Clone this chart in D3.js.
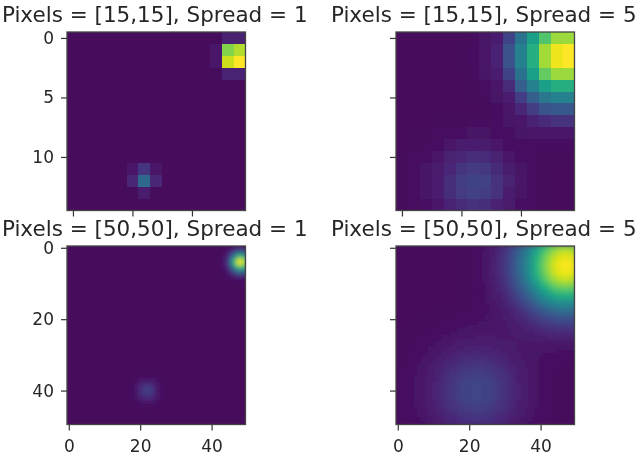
<!DOCTYPE html>
<html lang="en">
<head>
  <meta charset="UTF-8">
  <title>Heatmaps</title>
  <script src="https://d3js.org/d3.v7.min.js"></script>
  <style>
    body { margin: 0; background: #fff; }
    text { font-family: "DejaVu Sans", sans-serif; fill: #262626; filter: blur(0.35px); }
    .title { font-size: 21.5px; text-anchor: middle; }
    .axis text { font-size: 17px; fill: #262626; }
    .axis path { display: none; }
    .axis line { stroke: #333; stroke-width: 1.2; }
    .frame { fill: none; stroke: #444; stroke-width: 1.3; }
  </style>
</head>
<body>
  <svg width="640" height="457">
    <defs>
      <filter id="soft" x="-5%" y="-5%" width="110%" height="110%"><feGaussianBlur stdDeviation="0.55"/></filter>
      <filter id="smooth" x="-5%" y="-5%" width="110%" height="110%"><feGaussianBlur stdDeviation="2"/></filter>
    </defs>
  </svg>

  <script>
    const ticks15 = [0, 5, 10];
    const ticks50 = [0, 20, 40];

    // values on a 0-100 scale
    const grid15Spread1 = [
      [0,0,0,0,0,0,0,0,0,0,0,0,1,11,11],
      [0,0,0,0,0,0,0,0,0,0,0,0,7,84,90],
      [0,0,0,0,0,0,0,0,0,0,0,0,7,93,100],
      [0,0,0,0,0,0,0,0,0,0,0,0,1,12,12],
      [0,0,0,0,0,0,0,0,0,0,0,0,0,0,0],
      [0,0,0,0,0,0,0,0,0,0,0,0,0,0,0],
      [0,0,0,0,0,0,0,0,0,0,0,0,0,0,0],
      [0,0,0,0,0,0,0,0,0,0,0,0,0,0,0],
      [0,0,0,0,0,0,0,0,0,0,0,0,0,0,0],
      [0,0,0,0,0,0,0,0,0,0,0,0,0,0,0],
      [0,0,0,0,0,0,0,0,0,0,0,0,0,0,0],
      [0,0,0,0,0,7,19,6,0,0,0,0,0,0,0],
      [0,0,0,0,0,13,40,13,0,0,0,0,0,0,0],
      [0,0,0,0,0,1,9,1,0,0,0,0,0,0,0],
      [0,0,0,0,0,0,0,0,0,0,0,0,0,0,0]
    ];

    const grid15Spread5 = [
      [0,0,0,0,0,0,2,5,10,24,43,61,76,87,87],
      [0,0,0,0,0,1,3,6,12,30,49,67,88,98,100],
      [0,0,0,0,0,1,3,6,12,30,49,67,88,98,100],
      [0,0,0,0,0,0,2,5,10,24,43,61,79,87,87],
      [0,0,0,0,0,0,1,3,7,15,35,49,61,67,67],
      [0,0,0,0,0,0,1,2,5,10,22,35,45,49,49],
      [0,0,0,0,0,0,0,1,3,6,14,22,30,32,32],
      [0,0,0,1,1,1,2,2,4,5,7,12,15,18,18],
      [0,1,1,2,3,4,5,5,4,3,5,6,7,7,7],
      [0,1,2,4,6,9,10,9,7,4,3,2,3,3,3],
      [1,2,3,6,11,14,16,15,11,7,4,2,1,1,1],
      [1,3,5,9,14,19,21,20,15,9,5,2,1,0,0],
      [1,3,5,10,16,22,24,23,17,11,6,2,1,0,0],
      [1,3,5,10,16,21,23,22,17,10,5,2,1,0,0],
      [1,2,4,7,12,15,17,16,12,8,4,2,1,0,0]
    ];

    // the 50x50 spread 1 panel is flat except for two spots
    const cornerSpotRow = 0, cornerSpotCol = 42;
    const cornerSpot = [
      [0,1,2,4,8,11,13,11],
      [0,1,4,10,19,28,32,28],
      [1,2,8,19,36,53,60,53],
      [1,4,11,28,53,77,88,77],
      [1,4,13,32,60,88,100,88],
      [1,4,11,28,53,77,88,77],
      [1,2,8,19,36,53,60,53],
      [0,1,4,10,19,28,32,28],
      [0,1,2,4,8,11,13,11],
      [0,0,1,1,2,4,4,4],
      [0,0,0,0,1,1,1,1]
    ];
    const lowerSpotRow = 35, lowerSpotCol = 16;
    const lowerSpot = [
      [0,0,0,0,1,1,1,1,1,0,0,0,0],
      [0,0,0,1,2,3,3,3,2,1,0,0,0],
      [0,0,1,3,5,7,8,7,5,3,1,0,0],
      [0,1,2,5,9,13,15,13,9,5,2,1,0],
      [0,1,3,7,13,19,22,19,13,7,3,1,0],
      [0,1,3,8,15,22,25,22,15,8,3,1,0],
      [0,1,3,7,13,19,22,19,13,7,3,1,0],
      [0,1,2,5,9,13,15,13,9,5,2,1,0],
      [0,0,1,3,5,7,8,7,5,3,1,0,0],
      [0,0,0,1,2,3,3,3,2,1,0,0,0],
      [0,0,0,0,1,1,1,1,1,0,0,0,0]
    ];

    const z = [0,0,0,0,0,0,0,0,0,0,0,0,0,0,0,0,0];
    const grid50Spread5 = [
      [...z,1,1,1,2,2,3,3,4,6,8,10,12,15,17,21,25,30,34,39,44,50,56,61,66,71,76,80,83,85,86,87,86,85],
      [...z,1,1,1,2,2,3,4,5,6,8,10,13,16,18,22,27,31,36,41,47,52,59,64,70,75,80,85,87,90,91,92,91,90],
      [...z,1,1,1,2,2,3,4,5,7,9,10,13,16,19,23,28,32,37,43,48,54,61,67,72,78,83,87,90,93,94,95,94,93],
      [...z,1,1,1,2,2,3,4,5,7,9,11,14,17,20,24,28,33,38,44,50,56,63,69,74,80,85,90,93,96,97,98,97,96],
      [...z,1,1,1,2,2,3,4,5,7,9,11,14,17,20,24,29,34,39,45,50,56,63,69,75,81,86,91,94,97,98,99,98,97],
      [...z,1,1,1,2,2,3,4,5,7,9,11,14,17,20,24,29,34,39,45,51,57,64,70,76,82,87,92,95,98,99,100,99,98],
      [...z,1,1,1,2,2,3,4,5,7,9,11,14,17,20,24,29,34,39,45,50,56,63,69,75,81,86,91,94,97,98,99,98,97],
      [...z,1,1,1,2,2,3,4,5,7,9,11,14,17,20,24,28,33,38,44,50,56,63,69,74,80,85,90,93,96,97,98,97,96],
      [...z,1,1,1,2,2,3,4,5,7,9,10,13,16,19,23,28,32,37,43,48,54,61,67,72,78,83,87,90,93,94,95,94,93],
      [...z,1,1,1,2,2,3,4,5,6,8,10,13,16,18,22,27,31,36,41,47,52,59,64,70,75,80,85,87,90,91,92,91,90],
      [...z,1,1,1,2,2,3,3,4,6,8,10,12,15,17,21,25,30,34,39,44,50,56,61,66,71,76,80,83,85,86,87,86,85],
      [...z,1,1,1,2,2,2,3,4,6,7,9,11,14,16,20,24,28,32,37,42,47,52,57,62,67,71,75,78,80,81,82,81,80],
      [...z,1,1,1,2,2,2,3,4,5,7,8,11,13,15,18,22,26,30,34,39,43,49,53,58,62,66,70,72,74,75,76,75,74],
      [...z,1,1,1,1,1,2,3,4,5,6,8,10,12,14,17,20,24,27,32,36,40,45,49,53,57,61,64,67,69,69,70,69,69],
      [...z,1,1,1,2,2,2,3,4,5,6,8,10,11,13,15,19,22,25,29,33,36,41,45,49,52,56,59,61,63,63,64,63,63],
      [...z,1,1,1,2,2,2,3,4,5,6,7,9,10,12,14,17,19,22,26,29,32,36,40,43,47,50,52,54,56,56,57,56,56],
      [0,0,0,0,0,0,0,0,0,0,0,0,0,1,1,1,1,1,1,1,2,2,2,3,4,4,6,7,8,10,11,13,15,18,20,23,26,29,33,36,39,42,44,47,48,50,50,51,50,50],
      [0,0,0,0,0,0,0,0,0,0,0,1,1,1,1,1,1,1,1,1,2,2,2,3,3,4,5,6,7,9,10,11,13,15,18,20,23,26,29,32,34,37,39,41,43,44,45,45,45,44],
      [0,0,0,0,0,0,0,0,0,1,1,1,1,1,1,1,1,2,2,2,2,2,3,3,3,4,5,6,7,8,9,10,12,13,15,18,20,22,25,27,30,32,34,36,37,38,39,39,39,38],
      [0,0,0,0,0,0,1,1,1,1,1,1,1,1,2,2,2,2,2,2,3,3,3,4,4,5,5,6,7,7,8,10,11,13,14,16,18,20,22,24,26,28,30,31,33,33,34,34,34,33],
      [0,0,0,0,0,1,1,1,1,1,1,1,2,2,2,2,2,3,3,3,3,3,4,4,4,5,5,6,6,7,8,9,10,11,13,14,16,17,19,21,22,24,25,27,28,28,29,29,29,28],
      [0,0,0,1,1,1,1,1,1,1,2,2,2,2,3,3,3,3,3,4,4,4,4,5,5,5,5,6,6,7,7,8,9,10,11,12,14,15,16,17,19,20,21,22,23,24,24,24,24,24],
      [0,0,1,1,1,1,1,1,1,2,2,2,2,3,3,3,3,4,4,4,5,5,5,5,5,6,6,6,6,7,7,8,8,9,10,11,12,13,14,15,16,17,18,19,19,20,20,20,20,20],
      [0,0,1,1,1,1,1,1,2,2,2,3,3,3,4,4,4,5,5,5,5,5,6,6,6,6,6,6,6,7,7,7,8,9,9,10,11,11,12,13,14,15,15,16,16,17,17,17,17,17],
      [1,1,1,1,1,1,1,2,2,2,3,3,3,4,4,5,5,5,6,6,6,6,6,7,7,7,7,7,7,7,7,7,8,8,8,9,9,10,10,11,12,12,13,13,14,14,14,14,14,14],
      [1,1,1,1,1,2,2,2,3,3,3,4,4,5,5,6,6,7,7,7,7,7,8,8,8,8,8,8,7,7,7,7,7,8,8,8,8,8,9,9,10,10,11,11,11,11,11,11,11,11],
      [1,1,1,1,1,2,2,2,3,3,4,4,5,5,6,7,7,8,8,8,8,9,9,9,9,9,9,9,8,8,8,8,7,8,7,8,8,8,8,8,8,9,9,9,9,9,9,9,9,9],
      [1,1,1,1,2,2,2,3,3,4,4,5,6,6,7,7,8,9,9,10,10,10,10,10,10,10,10,9,9,9,8,8,8,8,7,7,7,7,7,7,7,7,7,7,7,7,7,7,7,7],
      [1,1,1,2,2,2,3,3,4,5,5,6,6,7,8,9,9,10,10,11,11,11,11,12,11,11,11,10,10,9,9,8,8,8,7,7,6,6,6,6,6,6,6,6,6,5,5,5,5,5],
      [1,1,2,2,2,3,3,4,4,5,6,7,7,8,9,10,10,11,12,12,12,13,13,13,12,12,12,12,11,10,10,9,8,8,7,7,6,6,6,5,5,5,5,5,5,4,4,4,4,4],
      [1,1,2,2,2,3,3,4,5,6,6,7,8,9,10,11,11,13,13,14,14,14,14,14,14,14,13,13,12,11,11,10,9,8,8,7,6,6,5,5,5,4,4,4,4,4,4,4,3,3],
      [1,1,2,2,3,3,4,5,5,6,7,8,9,10,12,12,13,14,15,15,15,16,16,16,15,15,15,14,13,13,12,11,10,9,8,7,6,6,5,5,4,4,4,3,3,3,3,3,2,2],
      [1,1,2,2,3,4,4,5,6,7,8,9,10,11,13,13,14,15,16,17,17,18,18,18,17,17,16,16,14,14,13,12,10,10,8,8,7,6,6,5,4,4,4,3,3,3,3,3,2,2],
      [2,2,2,3,3,4,5,5,7,8,8,10,11,12,14,14,15,17,18,18,18,19,19,19,18,18,18,17,15,15,14,12,11,10,9,8,7,6,5,5,4,4,3,2,3,2,2,2,1,1],
      [2,2,2,3,3,4,5,6,7,8,9,11,11,13,15,16,16,18,19,20,20,21,21,21,20,20,19,18,17,16,15,13,12,11,9,9,8,6,6,5,4,4,3,3,3,2,2,2,1,1],
      [2,2,3,3,3,4,5,6,7,9,10,11,12,14,16,17,17,19,20,21,21,22,22,22,21,21,20,19,18,17,16,14,13,12,10,9,8,7,6,5,4,4,3,3,3,2,2,2,1,1],
      [2,2,3,3,4,5,6,6,8,9,10,12,13,15,17,18,18,20,21,22,22,23,23,23,22,22,21,20,18,18,17,15,13,12,10,9,8,6,6,5,4,3,3,2,2,1,1,1,0,0],
      [2,2,3,3,4,5,6,7,8,10,10,12,13,15,17,18,19,21,22,23,23,24,24,24,23,23,22,21,19,18,17,15,13,12,10,10,8,7,6,5,4,3,3,2,2,1,1,1,0,0],
      [2,2,3,3,4,5,6,7,8,10,11,13,14,16,18,19,20,22,23,24,24,25,25,25,24,24,23,22,20,19,18,16,14,13,11,10,8,7,6,5,4,3,3,2,2,1,1,1,0,0],
      [2,2,3,3,4,5,6,7,8,10,11,13,14,16,18,19,20,22,23,24,24,25,25,25,24,24,23,22,20,19,18,16,14,13,11,10,8,7,6,5,4,3,3,2,2,1,1,1,0,0],
      [2,2,3,3,4,5,6,7,8,10,11,13,14,16,18,19,20,22,23,24,24,25,25,25,24,24,23,22,20,19,18,16,14,13,11,10,8,7,6,5,4,3,3,2,2,1,1,1,0,0],
      [2,2,3,3,4,5,6,7,8,10,11,13,14,16,18,19,20,22,23,24,24,25,25,25,24,24,23,22,20,19,18,16,14,13,11,10,8,7,6,5,4,3,3,2,2,1,1,1,0,0],
      [2,2,3,3,4,5,6,7,8,10,11,13,14,16,18,19,20,22,23,24,24,25,25,25,24,24,23,22,20,19,18,16,14,13,11,10,8,7,6,5,4,3,3,2,2,1,1,1,0,0],
      [2,2,3,3,4,5,6,7,8,10,10,12,13,15,17,18,19,21,22,23,23,24,24,24,23,23,22,21,19,18,17,15,13,12,10,10,8,7,6,5,4,3,3,2,2,1,1,1,0,0],
      [2,2,3,3,4,5,6,6,8,9,10,12,13,15,17,18,18,20,21,22,22,23,23,23,22,22,21,20,18,18,17,15,13,12,10,9,8,6,6,5,4,3,3,2,2,1,1,1,0,0],
      [2,2,3,3,3,4,5,6,7,9,10,11,12,14,16,17,17,19,20,21,21,22,22,22,21,21,20,19,17,17,16,14,12,11,10,9,7,6,5,4,3,3,3,2,2,1,1,1,0,0],
      [2,2,2,3,3,4,5,6,7,8,9,11,11,13,15,16,16,18,19,20,20,21,21,21,20,20,19,18,16,16,15,13,11,11,9,8,7,6,5,4,3,3,2,2,2,1,1,1,0,0],
      [2,2,2,3,3,4,5,5,6,8,8,10,11,12,14,14,15,17,17,18,18,19,19,19,18,18,17,17,15,14,14,12,11,10,8,8,6,5,5,4,3,3,2,2,2,1,1,1,0,0],
      [1,1,2,2,3,4,4,5,6,7,8,9,10,11,13,13,14,15,16,17,17,18,18,18,17,17,16,15,14,13,13,11,10,9,8,7,6,5,4,4,3,2,2,1,1,1,1,1,0,0],
      [1,1,2,2,3,3,4,4,5,6,7,8,9,10,12,12,13,14,15,15,15,16,16,16,15,15,15,14,13,12,12,10,9,8,7,6,5,4,4,3,3,2,2,1,1,1,1,1,0,0]
    ];

    const grid50Spread1 = d3.range(50).map(() => d3.range(50).map(() => 0));
    cornerSpot.forEach((row, r) => row.forEach((v, c) => { grid50Spread1[cornerSpotRow + r][cornerSpotCol + c] = v; }));
    lowerSpot.forEach((row, r) => row.forEach((v, c) => { grid50Spread1[lowerSpotRow + r][lowerSpotCol + c] = v; }));

    // low values sit darker than linear, and the background is not the very bottom of viridis
    const tone = d3.scalePow().exponent(1.2).domain([0, 100]).range([0.02, 1]);
    const color = v => d3.interpolateViridis(tone(v));
    const svg = d3.select('svg');

    function panel(opts) {
      const { grid, title, ticks, left, top, showX, showY, blur } = opts;
      const size = 178.5;
      const n = grid.length;
      const g = svg.append('g').attr('transform', `translate(${left}, ${top})`);

      const x = d3.scaleLinear().domain([-0.5, n - 0.5]).range([0, size]);
      const y = d3.scaleLinear().domain([-0.5, n - 0.5]).range([0, size]);
      const band = d3.scaleBand().domain(d3.range(n)).range([0, size]);

      const clipId = `clip-${left}-${top}`;
      g.append('clipPath').attr('id', clipId)
        .append('rect').attr('width', size).attr('height', size);

      const holder = g.append('g').attr('clip-path', `url(#${clipId})`)
        .append('g').attr('filter', `url(#${blur})`);

      holder.append('rect')
        .attr('x', -8).attr('y', -8)
        .attr('width', size + 16).attr('height', size + 16)
        .attr('fill', color(0));

      const cells = grid.flatMap((row, r) => row.map((v, c) => ({ r, c, v })));
      holder.selectAll('rect.cell')
        .data(cells)
        .enter()
        .append('rect')
        .attr('class', 'cell')
        .attr('shape-rendering', 'crispEdges')
        .attr('x', d => band(d.c))
        .attr('y', d => band(d.r))
        .attr('width', band.bandwidth() + 1)
        .attr('height', band.bandwidth() + 1)
        .attr('fill', d => color(d.v));

      g.append('g')
        .attr('class', 'axis')
        .call(d3.axisLeft(y).tickValues(ticks).tickSize(6).tickPadding(7).tickFormat(showY ? d3.format('d') : ''));

      g.append('g')
        .attr('class', 'axis')
        .attr('transform', `translate(0, ${size})`)
        .call(d3.axisBottom(x).tickValues(ticks).tickSize(6).tickPadding(9).tickFormat(showX ? d3.format('d') : ''));

      g.append('rect').attr('class', 'frame').attr('width', size).attr('height', size);

      svg.append('text')
        .attr('class', 'title')
        .attr('x', left + size / 2 - 1.5)
        .attr('y', top - 10.5)
        .text(title);
    }

    panel({ grid: grid15Spread1, title: 'Pixels = [15,15], Spread = 1', ticks: ticks15, left: 67, top: 32, showX: false, showY: true, blur: 'soft' });
    panel({ grid: grid15Spread5, title: 'Pixels = [15,15], Spread = 5', ticks: ticks15, left: 396, top: 32, showX: false, showY: false, blur: 'soft' });
    panel({ grid: grid50Spread1, title: 'Pixels = [50,50], Spread = 1', ticks: ticks50, left: 67, top: 246, showX: true, showY: true, blur: 'smooth' });
    panel({ grid: grid50Spread5, title: 'Pixels = [50,50], Spread = 5', ticks: ticks50, left: 396, top: 246, showX: true, showY: false, blur: 'smooth' });
  </script>
</body>
</html>
